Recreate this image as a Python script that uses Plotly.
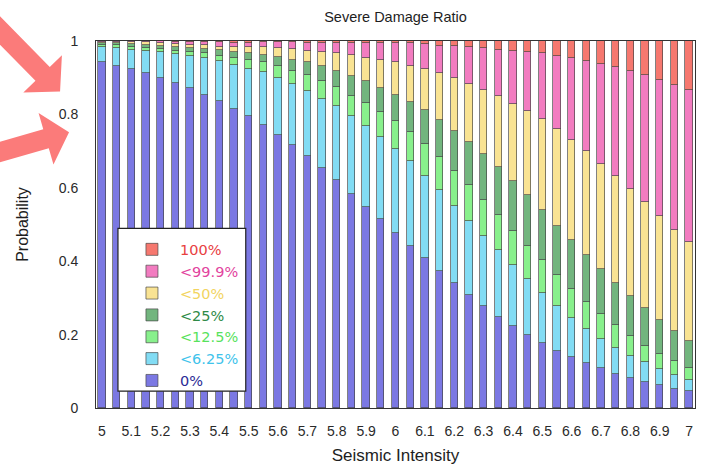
import plotly.graph_objects as go

# Seismic intensity levels (one stacked bar each)
intensity = [5.00, 5.05, 5.10, 5.15, 5.20, 5.25, 5.30, 5.35, 5.40, 5.45,
             5.50, 5.55, 5.60, 5.65, 5.70, 5.75, 5.80, 5.85, 5.90, 5.95,
             6.00, 6.05, 6.10, 6.15, 6.20, 6.25, 6.30, 6.35, 6.40, 6.45,
             6.50, 6.55, 6.60, 6.65, 6.70, 6.75, 6.80, 6.85, 6.90, 6.95, 7.00]

# Probability of each damage-ratio class at every intensity
prob_0 = [0.942, 0.933, 0.924, 0.913, 0.899, 0.886, 0.871, 0.854, 0.837, 0.815,
          0.795, 0.772, 0.745, 0.716, 0.686, 0.654, 0.620, 0.584, 0.548, 0.514,
          0.478, 0.442, 0.408, 0.373, 0.340, 0.308, 0.279, 0.249, 0.224, 0.199,
          0.177, 0.156, 0.138, 0.122, 0.109, 0.092, 0.082, 0.071, 0.062, 0.053, 0.045]
prob_6_25 = [0.041, 0.048, 0.052, 0.060, 0.070, 0.078, 0.087, 0.099, 0.109, 0.120,
             0.128, 0.143, 0.154, 0.167, 0.179, 0.188, 0.202, 0.211, 0.220, 0.224,
             0.229, 0.230, 0.224, 0.220, 0.211, 0.201, 0.190, 0.181, 0.166, 0.152,
             0.136, 0.123, 0.108, 0.094, 0.079, 0.071, 0.061, 0.053, 0.045, 0.038, 0.032]
prob_12_5 = [0.006, 0.007, 0.007, 0.008, 0.009, 0.010, 0.011, 0.013, 0.014, 0.018,
             0.024, 0.027, 0.032, 0.036, 0.043, 0.050, 0.052, 0.056, 0.064, 0.068,
             0.074, 0.080, 0.088, 0.091, 0.094, 0.098, 0.097, 0.095, 0.092, 0.091,
             0.090, 0.083, 0.078, 0.072, 0.067, 0.062, 0.054, 0.046, 0.041, 0.038, 0.032]
prob_25 = [0.006, 0.007, 0.009, 0.009, 0.009, 0.011, 0.012, 0.012, 0.015, 0.018,
           0.020, 0.020, 0.026, 0.029, 0.034, 0.041, 0.043, 0.055, 0.058, 0.066,
           0.073, 0.081, 0.091, 0.102, 0.111, 0.118, 0.125, 0.132, 0.136, 0.138,
           0.136, 0.134, 0.133, 0.130, 0.124, 0.116, 0.109, 0.102, 0.092, 0.081, 0.074]
prob_50 = [0.003, 0.003, 0.005, 0.006, 0.007, 0.008, 0.009, 0.011, 0.010, 0.014,
           0.018, 0.021, 0.024, 0.030, 0.032, 0.038, 0.050, 0.056, 0.064, 0.075,
           0.088, 0.100, 0.113, 0.126, 0.143, 0.158, 0.176, 0.192, 0.211, 0.228,
           0.249, 0.263, 0.274, 0.281, 0.287, 0.291, 0.290, 0.288, 0.283, 0.275, 0.268]
prob_99_9 = [0.0015, 0.001, 0.002, 0.003, 0.005, 0.005, 0.008, 0.008, 0.011, 0.010,
             0.010, 0.013, 0.015, 0.018, 0.021, 0.024, 0.028, 0.033, 0.041, 0.047,
             0.053, 0.062, 0.068, 0.075, 0.087, 0.100, 0.113, 0.127, 0.143, 0.161,
             0.178, 0.199, 0.222, 0.246, 0.272, 0.296, 0.323, 0.348, 0.372, 0.395, 0.416]
prob_100 = [0.0005, 0.001, 0.001, 0.001, 0.001, 0.002, 0.002, 0.003, 0.004, 0.005,
            0.005, 0.004, 0.004, 0.004, 0.005, 0.005, 0.005, 0.005, 0.005, 0.006,
            0.005, 0.005, 0.008, 0.013, 0.014, 0.017, 0.020, 0.024, 0.028, 0.031,
            0.034, 0.042, 0.047, 0.055, 0.062, 0.072, 0.081, 0.092, 0.105, 0.120, 0.133]

class_labels = ["0%", "<6.25%", "<12.5%", "<25%", "<50%", "<99.9%", "100%"]

x_tick_vals = [5.0, 5.1, 5.2, 5.3, 5.4, 5.5, 5.6, 5.7, 5.8, 5.9, 6.0,
               6.1, 6.2, 6.3, 6.4, 6.5, 6.6, 6.7, 6.8, 6.9, 7.0]
x_tick_text = ["5", "5.1", "5.2", "5.3", "5.4", "5.5", "5.6", "5.7", "5.8", "5.9", "6",
               "6.1", "6.2", "6.3", "6.4", "6.5", "6.6", "6.7", "6.8", "6.9", "7"]
y_tick_vals = [0, 0.2, 0.4, 0.6, 0.8, 1]
y_tick_text = ["0", "0.2", "0.4", "0.6", "0.8", "1"]

series = [prob_0, prob_6_25, prob_12_5, prob_25, prob_50, prob_99_9, prob_100]
fill_colors = ["#7B78E3", "#82DCF4", "#88F08C", "#72B57E", "#F9E393", "#F27CC0", "#F6786F"]
text_colors = ["#2B2B95", "#3FC3EB", "#58E25C", "#2F8A47", "#F2D460", "#E2439E", "#E8403F"]

fig = go.Figure()
for label, vals, fc, tc in zip(class_labels, series, fill_colors, text_colors):
    safe = label.replace("<", "&lt;")
    fig.add_trace(go.Bar(
        x=intensity, y=vals, width=0.025,
        name=f"<span style='color:{tc}'>{safe}</span>",
        marker=dict(color=fc, line=dict(color="rgba(70,70,70,0.85)", width=0.8)),
    ))

# plot area in pixels: x 96..696, y 41..411
L, R, T, B = 96, 696, 41, 411


def px_to_paper(px, py):
    return (px - L) / (R - L), (B - py) / (B - T)


def arrow_path(tail, tip, shaft_hw, head_hw, head_len):
    dx, dy = tip[0] - tail[0], tip[1] - tail[1]
    n = (dx * dx + dy * dy) ** 0.5
    ux, uy = dx / n, dy / n
    vx, vy = -uy, ux
    bx, by = tip[0] - ux * head_len, tip[1] - uy * head_len
    pts = [
        (tail[0] + vx * shaft_hw, tail[1] + vy * shaft_hw),
        (bx + vx * shaft_hw, by + vy * shaft_hw),
        (bx + vx * head_hw, by + vy * head_hw),
        tip,
        (bx - vx * head_hw, by - vy * head_hw),
        (bx - vx * shaft_hw, by - vy * shaft_hw),
        (tail[0] - vx * shaft_hw, tail[1] - vy * shaft_hw),
    ]
    pp = [px_to_paper(*p) for p in pts]
    return "M" + " L".join(f"{a:.5f},{b:.5f}" for a, b in pp) + " Z"


shapes = [
    dict(type="path", xref="paper", yref="paper", layer="above",
         path=arrow_path((-25, 5), (60, 92), 10, 27, 25),
         fillcolor="#FB7B7A", line=dict(width=0)),
    dict(type="path", xref="paper", yref="paper", layer="above",
         path=arrow_path((-25, 160), (69, 133), 10, 27, 24),
         fillcolor="#FB7B7A", line=dict(width=0)),
]
# legend frame
x0, y0 = px_to_paper(118, 394)
x1, y1 = px_to_paper(246, 230)
shapes.append(dict(type="rect", xref="paper", yref="paper", layer="above",
                   x0=x0, y0=y0, x1=x1, y1=y1, fillcolor="white",
                   line=dict(color="#222222", width=1.2)))

lx, ly = px_to_paper(124, 235)

fig.update_layout(
    width=702, height=468,
    margin=dict(l=L, r=702 - R, t=T, b=468 - B),
    paper_bgcolor="white", plot_bgcolor="white",
    barmode="stack", bargap=0,
    font=dict(family="Liberation Sans, Arial, sans-serif", color="#2a2a2a", size=14),
    title=dict(text="Severe Damage Ratio", x=0.5, xref="paper", xanchor="center",
               y=1 - 17 / 468, yref="container", yanchor="middle",
               font=dict(size=14.5, color="#1e1e1e")),
    showlegend=True,
    legend=dict(x=lx, y=ly, xanchor="left", yanchor="top",
                bgcolor="rgba(0,0,0,0)", borderwidth=0, traceorder="reversed",
                itemwidth=46,
                font=dict(family="DejaVu Sans, sans-serif", size=14.5)),
    shapes=shapes,
    xaxis=dict(range=[4.98, 7.02], tickvals=x_tick_vals, ticktext=x_tick_text,
               showgrid=False, zeroline=False, showline=True, mirror=True,
               linecolor="#333333", linewidth=1, ticks="", ticklabelstandoff=10,
               tickfont=dict(size=14, color="#2a2a2a"),
               title=dict(text="Seismic Intensity", standoff=11,
                          font=dict(size=17, color="#1e1e1e"))),
    yaxis=dict(range=[0, 1], tickvals=y_tick_vals, ticktext=y_tick_text,
               showgrid=False, zeroline=False, showline=True, mirror=True,
               linecolor="#333333", linewidth=1, ticks="", ticklabelstandoff=14,
               tickfont=dict(size=14, color="#2a2a2a"),
               title=dict(text="Probability", standoff=26,
                          font=dict(size=16, color="#1e1e1e"))),
)

fig.write_html("out.html")
